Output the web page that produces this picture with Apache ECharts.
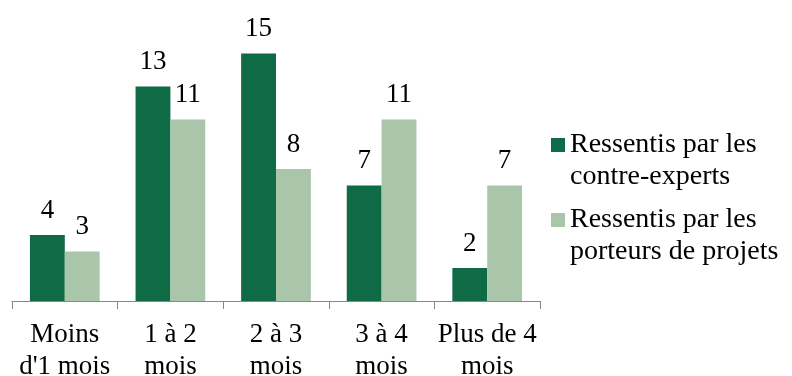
<!DOCTYPE html>
<html><head><meta charset="utf-8">
<script src="https://cdn.jsdelivr.net/npm/echarts@6/dist/echarts.min.js"></script>
<style>html,body{margin:0;padding:0;background:#fff}#c{width:792px;height:376px}</style>
</head><body><div id="c"></div>
<script>
var categories = ["Moins\nd'1 mois", "1 à 2\nmois", "2 à 3\nmois", "3 à 4\nmois", "Plus de 4\nmois"];
var seriesNames = ["Ressentis par les\ncontre-experts", "Ressentis par les\nporteurs de projets"];
var contreExperts = [4, 13, 15, 7, 2];
var porteursProjets = [3, 11, 8, 11, 7];

var FONT = "Liberation Serif";
var FS = 27;
var chart = echarts.init(document.getElementById('c'));
chart.setOption({
  animation: false,
  textStyle: {fontFamily: FONT},
  grid: {left: 12, right: 252, top: 37, bottom: 75, containLabel: false, outerBoundsMode: 'none'},
  legend: {
    orient: 'vertical', left: 551, top: 129, padding: 0, itemWidth: 14, itemHeight: 64, itemGap: 11,
    icon: 'path://M0,0h0.01v0.01h-0.01z M0,9h14v14h-14z M0,63.99h0.01v0.01h-0.01z',
    textStyle: {fontFamily: FONT, fontSize: 28, color: '#000', lineHeight: 32},
    data: seriesNames
  },
  xAxis: {
    type: 'category', data: categories,
    axisLine: {lineStyle: {color: '#888888', width: 1}},
    axisTick: {show: true, alignWithLabel: false, length: 8, lineStyle: {color: '#888888'}},
    axisLabel: {fontFamily: FONT, fontSize: FS, color: '#000', lineHeight: 32, margin: 18, interval: 0}
  },
  yAxis: {type: 'value', min: 0, max: 16, show: false, splitLine: {show: false}},
  series: [
    {name: seriesNames[0], type: 'bar', data: contreExperts, barGap: '0%', barCategoryGap: '34%',
     itemStyle: {color: '#0e6b45'},
     label: {show: true, position: 'top', distance: 11, fontFamily: FONT, fontSize: FS, color: '#000'}},
    {name: seriesNames[1], type: 'bar', data: porteursProjets,
     itemStyle: {color: '#a9c6aa'},
     label: {show: true, position: 'top', distance: 11, fontFamily: FONT, fontSize: FS, color: '#000'}}
  ]
});
</script></body></html>
